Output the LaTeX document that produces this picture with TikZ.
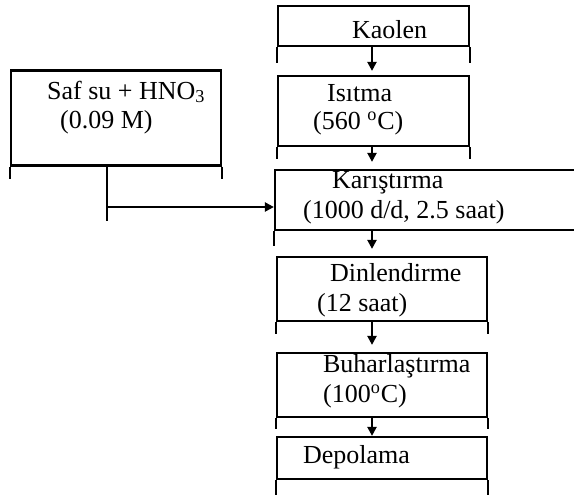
\documentclass[tikz,border=0pt]{standalone}
\usepackage{fontspec}
\setmainfont{Liberation Serif}
\usepackage{tikz}
\usetikzlibrary{positioning, calc, arrows.meta}

\begin{document}
\begin{tikzpicture}[x = 0.5pt, y = -0.5pt, line width = 1.1pt,
        box/.style = {draw, rectangle, inner sep = 0pt},
        txt/.style = {anchor = west, inner sep = 0pt,
            font = \fontsize{13}{15}\selectfont},
        arr/.style = {-{Triangle[length = 4.5pt, width = 4.5pt]}}]
        \useasboundingbox (0,0) rectangle (574,494);
        \clip (0,0) rectangle (574,494);
        % boxes
        \node (salt) [box, minimum width = 105pt, minimum height = 47.5pt]
        at (116,118) {};
        \node (kaolen) [box, minimum width = 95.5pt, minimum height = 20pt]
        at (373.5,26) {};
        \node (isitma) [box, minimum width = 95.5pt, minimum height = 35pt]
        at (373.5,111) {};
        \node (karistirma) [box, minimum width = 157.5pt, minimum height =
        30pt] at (432.5,200) {};
        \node (dinlendirme) [box, minimum width = 105pt, minimum height =
        32pt] at (382,289) {};
        \node (buhar) [box, minimum width = 105pt, minimum height = 32pt]
        at (382,385) {};
        \node (depolama) [box, minimum width = 105pt, minimum height = 21pt]
        at (382,458) {};
        % legs below each box
        \foreach \b/\l in {salt/12, kaolen/16, isitma/12, karistirma/15,
            dinlendirme/12, buhar/11, depolama/20} {
            \draw [-] (\b.south west) -- ++ (0, \l);
            \draw [-] (\b.south east) -- ++ (0, \l);
        }
        % texts
        \node (t1) [txt] at (351,30) {Kaolen};
        \node (t2) [txt] at (326,93) {Isıtma};
        \node (t3) [txt] at (312,123) {(560 \textsuperscript{o}C)};
        \node (t4) [txt] at (331,183) {Karıştırma};
        \node (t5) [txt] at (302,212) {(1000 d/d, 2.5 saat)};
        \node (t6) [txt] at (46,92) {Saf su + HNO\textsubscript{3}};
        \node (t7) [txt] at (59,122) {(0.09 M)};
        \node (t8) [txt] at (329,273) {Dinlendirme};
        \node (t9) [txt] at (316,305) {(12 saat)};
        \node (t10) [txt] at (322,366) {Buharlaştırma};
        \node (t11) [txt] at (322,396) {(100\textsuperscript{o}C)};
        \node (t12) [txt] at (302,457) {Depolama};
        % arrows
        \coordinate (col) at (372,0);
        \coordinate (feed) at (107,207);
        \draw [arr, shorten > = 2pt] (kaolen.south -| col) -- (isitma.north -| col);
        \draw [arr, shorten > = 3.5pt] (isitma.south -| col) -- (karistirma.north -| col);
        \draw [arr, shorten > = 3.5pt] (karistirma.south -| col) -- (dinlendirme.north -| col);
        \draw [arr, shorten > = 3.5pt] (dinlendirme.south -| col) -- (buhar.north -| col);
        \draw [arr] (buhar.south -| col) -- (depolama.north -| col);
        \draw [-] (salt.south -| feed) -- ++ (0, 54);
        \draw [arr] (feed) -- (feed -| karistirma.west);
    \end{tikzpicture}
\end{document}
